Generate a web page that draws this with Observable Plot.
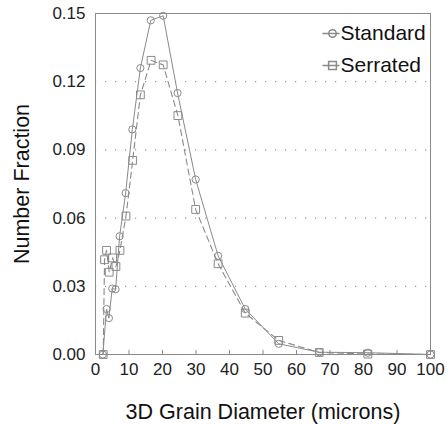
<!DOCTYPE html>
<html><head><meta charset="utf-8">
<script src="https://cdn.jsdelivr.net/npm/d3@7"></script>
<script src="https://cdn.jsdelivr.net/npm/@observablehq/plot@0.6"></script>
<style>
html,body{margin:0;padding:0;background:#fff;}
svg{font-family:"Liberation Sans",Arial,sans-serif;}
</style></head>
<body><div id="chart"></div>
<script>
const standardX = [2.2,3.3,4.0,5.0,6.0,7.2,9.0,11.0,13.4,16.5,20.2,24.5,29.9,36.6,44.7,54.7,66.8,81.3,100];
const standardY = [0,0.020,0.016,0.029,0.0287,0.052,0.071,0.099,0.126,0.147,0.149,0.115,0.077,0.0434,0.020,0.0047,0.001,0.0008,0];
const serratedX = [2.3,2.7,3.3,4.1,5.1,6.1,7.3,9.1,11.1,13.4,16.6,20.2,24.6,29.9,36.6,44.7,54.7,66.8,81.3,100];
const serratedY = [0,0.0417,0.0458,0.0362,0.0425,0.0387,0.0458,0.0609,0.0854,0.1142,0.1294,0.1274,0.1051,0.0638,0.0399,0.0182,0.0062,0.0009,0.0002,0];
const xTicks = [0,10,20,30,40,50,60,70,80,90,100];
const yTicks = [0,0.03,0.06,0.09,0.12,0.15];
const gridTicks = [0.03,0.06,0.09,0.12];
const seriesNames = ["Standard","Serrated"];
const xTitle = "3D Grain Diameter (microns)";
const yTitle = "Number Fraction";

const standard = standardX.map((x,i)=>({x, y: standardY[i]}));
const serrated = serratedX.map((x,i)=>({x, y: serratedY[i]}));
const gray = "#8a8a8a";

const legendCircle = {draw(ctx, size){ const r = Math.sqrt(size/Math.PI); ctx.moveTo(-10,0); ctx.lineTo(7,0); ctx.moveTo(r,0); ctx.arc(0,0,r,0,2*Math.PI);} };
const legendSquare = {draw(ctx, size){ const s = Math.sqrt(size)/2; ctx.moveTo(-10,0); ctx.lineTo(7,0); ctx.moveTo(-s,-s); ctx.lineTo(s,-s); ctx.lineTo(s,s); ctx.lineTo(-s,s); ctx.closePath();} };

const chart = Plot.plot({
  width: 447, height: 424,
  marginLeft: 95, marginRight: 17, marginTop: 13, marginBottom: 70,
  style: {fontFamily: '"Liberation Sans", Arial, sans-serif', background: "#fff"},
  x: {domain: [0,100]},
  y: {domain: [0,0.15]},
  marks: [
    Plot.ruleY(gridTicks, {stroke: "#999", strokeDasharray: "1.2,8.8", strokeWidth: 1.2}),
    Plot.frame({stroke: gray}),
    Plot.ruleX(xTicks.slice(1,-1), {x: d=>d, y1: 0, y2: 0.0018, stroke: gray}),
    Plot.axisX({ticks: xTicks, tickSize: 0, tickPadding: 8, fontSize: 17, fill: "#222", label: null}),
    Plot.axisY({ticks: yTicks, tickSize: 0, tickPadding: 10, fontSize: 17, fill: "#222", label: null, tickFormat: d3.format(".2f")}),
    Plot.line(standard, {x: "x", y: "y", stroke: gray, strokeWidth: 1}),
    Plot.line(serrated, {x: "x", y: "y", stroke: gray, strokeWidth: 1.1, strokeDasharray: "6,4"}),
    Plot.dot(standard, {x: "x", y: "y", r: 3.6, stroke: gray, fill: "none", strokeWidth: 1}),
    Plot.dot(serrated, {x: "x", y: "y", r: 4.4, symbol: "square", stroke: gray, fill: "none", strokeWidth: 1}),
    Plot.text([xTitle], {frameAnchor: "bottom", dy: 58, textAnchor: "middle", lineAnchor: "middle", fontSize: 21.5, fill: "#111"}),
    Plot.text([yTitle], {frameAnchor: "left", dx: -73, rotate: -90, textAnchor: "middle", lineAnchor: "middle", fontSize: 21.5, fill: "#111"}),
    Plot.dot([seriesNames[0]], {frameAnchor: "top-right", dx: -98, dy: 20, r: 3.8, symbol: legendCircle, stroke: gray, fill: "none"}),
    Plot.dot([seriesNames[1]], {frameAnchor: "top-right", dx: -98, dy: 52, r: 4.4, symbol: legendSquare, stroke: gray, fill: "none"}),
    Plot.text([seriesNames[0]], {frameAnchor: "top-right", dx: -90, dy: 20, textAnchor: "start", lineAnchor: "middle", fontSize: 21, fill: "#111"}),
    Plot.text([seriesNames[1]], {frameAnchor: "top-right", dx: -90, dy: 52, textAnchor: "start", lineAnchor: "middle", fontSize: 21, fill: "#111"}),
  ]
});
document.getElementById("chart").appendChild(chart);
</script></body></html>
